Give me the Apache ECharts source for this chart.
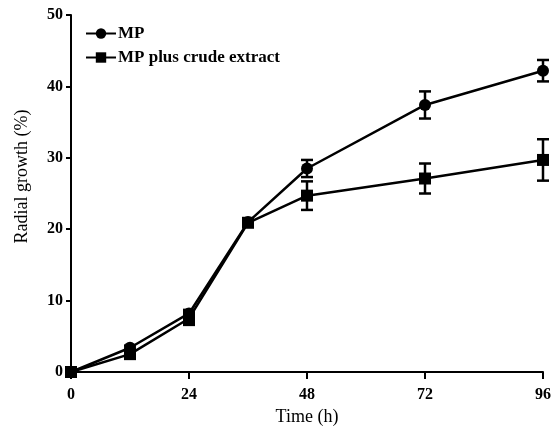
<!DOCTYPE html>
<html>
<head>
<meta charset="utf-8">
<script src="https://cdn.jsdelivr.net/npm/echarts@6/dist/echarts.min.js"></script>
<style>
  html, body { margin: 0; padding: 0; background: #fff; }
  #chart { width: 560px; height: 426px; }
</style>
</head>
<body>
<div id="chart"></div>
<script>
// sampling times (h)
var times = [0, 12, 24, 36, 48, 72, 96];
// radial growth (%) and SE
var mp = [0, 3.4, 8.2, 21.0, 28.5, 37.4, 42.2];
var mpErr = [0, 0.3, 0.5, 0.4, 1.2, 1.9, 1.5];
var crude = [0, 2.5, 7.5, 20.9, 24.7, 27.1, 29.7];
var crudeErr = [0, 0.3, 0.9, 0.5, 2.0, 2.1, 2.9];
var xTicks = [0, 24, 48, 72, 96];
var yTicks = [0, 10, 20, 30, 40, 50];

var font = 'Liberation Serif';

function pairs(ys) {
  return times.map(function (t, i) { return [t, ys[i]]; });
}
function bars(ys, es) {
  return times.map(function (t, i) { return [t, ys[i] - es[i], ys[i] + es[i]]; });
}

// error bar drawing
function renderErr(params, api) {
  var lo = api.coord([api.value(0), api.value(1)]);
  var hi = api.coord([api.value(0), api.value(2)]);
  var w = 6;
  var style = { stroke: '#000', lineWidth: 2.5 };
  return {
    type: 'group',
    children: [
      { type: 'line', shape: { x1: lo[0], y1: lo[1], x2: hi[0], y2: hi[1] }, style: style },
      { type: 'line', shape: { x1: lo[0] - w, y1: lo[1], x2: lo[0] + w, y2: lo[1] }, style: style },
      { type: 'line', shape: { x1: hi[0] - w, y1: hi[1], x2: hi[0] + w, y2: hi[1] }, style: style }
    ]
  };
}

var myChart = echarts.init(document.getElementById('chart'));

var option = {
  backgroundColor: '#fff',
  animation: false,
  grid: { left: 71, right: 17, top: 15, bottom: 54, containLabel: false, outerBoundsMode: 'none' },
  legend: {
    data: ['MP', 'MP plus crude extract'],
    orient: 'vertical',
    left: 80,
    top: 20,
    itemGap: 7,
    itemWidth: 30,
    itemHeight: 13,
    textStyle: { fontFamily: font, fontWeight: 'bold', fontSize: 17, color: '#000', padding: [0, 0, 0, -3] }
  },
  xAxis: {
    type: 'value',
    min: 0,
    max: 96,
    interval: 24,
    name: 'Time (h)',
    nameLocation: 'middle',
    nameGap: 33,
    nameTextStyle: { fontFamily: font, fontSize: 18, color: '#000' },
    axisLine: { lineStyle: { color: '#000', width: 2 } },
    axisTick: { length: 7, lineStyle: { color: '#000', width: 2 } },
    axisLabel: {
      fontFamily: font, fontWeight: 'bold', fontSize: 16, color: '#000', margin: 15,
      formatter: function (v) { return xTicks.indexOf(v) >= 0 ? v : ''; }
    },
    splitLine: { show: false }
  },
  yAxis: {
    type: 'value',
    min: 0,
    max: 50,
    interval: 10,
    name: 'Radial growth (%)',
    nameLocation: 'middle',
    nameGap: 40,
    nameTextStyle: { fontFamily: font, fontSize: 18, color: '#000', padding: [0, 0, 0, 34] },
    axisLine: { show: true, lineStyle: { color: '#000', width: 2 } },
    axisTick: { show: true, length: 5, lineStyle: { color: '#000', width: 2 } },
    axisLabel: {
      fontFamily: font, fontWeight: 'bold', fontSize: 16, color: '#000', margin: 8,
      formatter: function (v) { return yTicks.indexOf(v) >= 0 ? v : ''; }
    },
    splitLine: { show: false }
  },
  series: [
    {
      name: 'MP',
      type: 'line',
      data: pairs(mp),
      symbol: 'circle',
      symbolSize: 12,
      lineStyle: { color: '#000', width: 2.5 },
      itemStyle: { color: '#000' },
      z: 3
    },
    {
      name: 'MP plus crude extract',
      type: 'line',
      data: pairs(crude),
      symbol: 'rect',
      symbolSize: 12,
      lineStyle: { color: '#000', width: 2.5 },
      itemStyle: { color: '#000' },
      z: 4
    },
    {
      name: 'mpErr',
      type: 'custom',
      renderItem: renderErr,
      data: bars(mp, mpErr),
      encode: { x: 0, y: [1, 2] },
      z: 2
    },
    {
      name: 'crudeErr',
      type: 'custom',
      renderItem: renderErr,
      data: bars(crude, crudeErr),
      encode: { x: 0, y: [1, 2] },
      z: 2
    }
  ]
};

myChart.setOption(option);
</script>
</body>
</html>
